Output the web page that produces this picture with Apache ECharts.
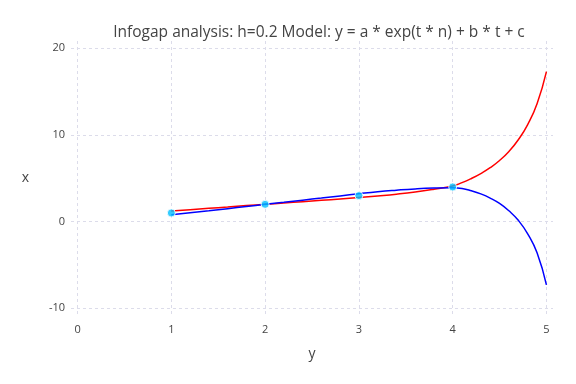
<!DOCTYPE html>
<html><head><meta charset="utf-8">
<script src="https://cdn.jsdelivr.net/npm/echarts@6/dist/echarts.min.js"></script>
<style>html,body{margin:0;padding:0;background:#fff}#c{width:576px;height:384px}</style>
</head><body><div id="c"></div>
<script>
const titleText = "Infogap analysis: h=0.2 Model: y = a * exp(t * n) + b * t + c";
const xTicks = [0, 1, 2, 3, 4, 5];
const yTicks = [-10, 0, 10, 20];
const tValues = [1.0,1.2,1.4,1.6,1.8,2.0,2.2,2.4,2.6,2.8,3.0,3.2,3.4,3.6,3.8,4.0,4.1,4.2,4.3,4.4,4.5,4.6,4.7,4.8,4.9,5.0];
const redValues = [1.22,1.38,1.54,1.69,1.85,2.0,2.15,2.30,2.46,2.62,2.79,2.97,3.17,3.42,3.74,4.12,4.5,4.98,5.55,6.22,7.05,8.1,9.45,11.2,13.6,17.3];
const blueValues = [0.80,1.02,1.25,1.5,1.75,2.0,2.24,2.48,2.72,2.97,3.22,3.45,3.63,3.78,3.88,3.92,3.83,3.56,3.2,2.72,2.1,1.25,0.15,-1.4,-3.6,-7.3];
const obsX = [1, 2, 3, 4];
const obsY = [1, 2, 3, 4];

const pair = (xs, ys) => xs.map((x, i) => [x, ys[i]]);
const font = "'Open Sans', Verdana, sans-serif";
const chart = echarts.init(document.getElementById('c'), null, {renderer: 'canvas'});
const gridLine = {show: true, lineStyle: {color: '#dcdcea', type: [3, 3], width: 1}};
chart.setOption({
  animation: false,
  title: {text: titleText, left: 314, top: 20, textAlign: 'center',
    textStyle: {fontFamily: font, fontSize: 15.5, fontWeight: 'normal', color: '#444'}},
  grid: {left: 71, right: 23, top: 41, bottom: 69},
  xAxis: {type: 'value', min: -0.07, max: 5.07,
    name: 'y', nameLocation: 'middle', nameGap: 32,
    nameTextStyle: {fontFamily: font, fontSize: 14, color: '#444'},
    axisLine: {show: false}, axisTick: {show: false, customValues: xTicks},
    axisLabel: {customValues: xTicks, fontFamily: font, fontSize: 11, color: '#444', margin: 9},
    splitLine: gridLine},
  yAxis: {type: 'value', min: -10.77, max: 20.84,
    name: 'x', nameLocation: 'middle', nameGap: 42, nameRotate: 0,
    nameTextStyle: {fontFamily: font, fontSize: 14, color: '#444'},
    axisLine: {show: false}, axisTick: {show: false, customValues: yTicks},
    axisLabel: {customValues: yTicks, fontFamily: font, fontSize: 11, color: '#444', margin: 6},
    splitLine: gridLine},
  series: [
    {type: 'line', data: pair(tValues, redValues), showSymbol: false, smooth: true,
      lineStyle: {color: '#ff0000', width: 1.5}, z: 2},
    {type: 'line', data: pair(tValues, blueValues), showSymbol: false, smooth: true,
      lineStyle: {color: '#0000ff', width: 1.5}, z: 3},
    {type: 'scatter', data: pair(obsX, obsY), symbol: 'circle', symbolSize: 8,
      itemStyle: {color: '#00bfff', borderColor: '#ffffff', borderWidth: 1}, z: 4}
  ]
});
</script></body></html>
